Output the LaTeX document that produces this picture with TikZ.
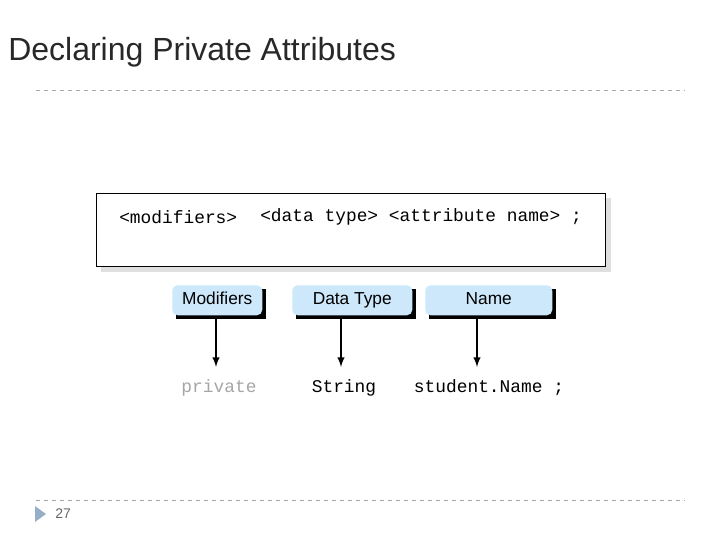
\documentclass[tikz,border=0pt]{standalone}
\usepackage{fontspec}
\setmainfont{Liberation Sans}
\setmonofont{Liberation Mono}
\definecolor{lblue}{RGB}{204,232,250}
\definecolor{tri}{RGB}{150,175,200}
\definecolor{titc}{RGB}{40,40,40}
\begin{document}
\begin{tikzpicture}[x=0.75pt,y=-0.75pt,
  lbl/.style={draw=none,fill=lblue,minimum width=#1*0.75pt,minimum height=30*0.75pt,inner sep=0pt,text height=1.6ex,text depth=0.45ex,font=\fontsize{13}{15}\selectfont},
  arr/.style={-latex,line width=1.5pt},
  code/.style={font=\ttfamily\fontsize{13.4}{15}\selectfont,inner sep=0pt}]
\useasboundingbox (0,0) rectangle (720,540);
\node[anchor=west,inner sep=0pt,font=\fontsize{24}{28}\selectfont,text=titc] (title) at (8,52) {Declaring Private Attributes};
\draw[dashed,gray!70] (36,90) coordinate (t1) -- (685,90) coordinate (t2);
\draw[dashed,gray!70] (36,500) coordinate (b1) -- (685,500) coordinate (b2);
\fill[gray!25] (101,198) rectangle (611,272);
\node[draw,fill=white,minimum width=509*0.75pt,minimum height=73*0.75pt,anchor=north west,inner sep=0pt] (box) at (96,193) {};
\node[code,anchor=west] (mod) at (119,217) {<modifiers>};
\node[code,anchor=west] (rest) at (260,217) {<data type> <attribute name> ;};
\foreach \n/\x/\w/\t in {m/172/90/Modifiers,d/292/120/Data Type,n/425/127/Name}{
  \fill[black] (\x+4,289) rectangle (\x+\w+4,319);
  \node[lbl=\w,anchor=north west,rounded corners=4pt] (\n) at (\x,285) {\t};
}
\node[code,text=gray!70] (p) at (219,388) {private};
\node[code] (s) at (344,388) {String};
\node[code] (sn) at (489,388) {student.Name ;};
\draw[arr] (216,319) -- (216,367);
\draw[arr] (341,319) -- (341,367);
\draw[arr] (477,319) -- (477,367);
\fill[tri] (35,506) -- (46,514) -- (35,522) -- cycle;
\node[anchor=west,inner sep=0pt,font=\fontsize{10.5}{12}\selectfont,text=gray!80!black] (pg) at (55,514) {27};
\end{tikzpicture}
\end{document}
